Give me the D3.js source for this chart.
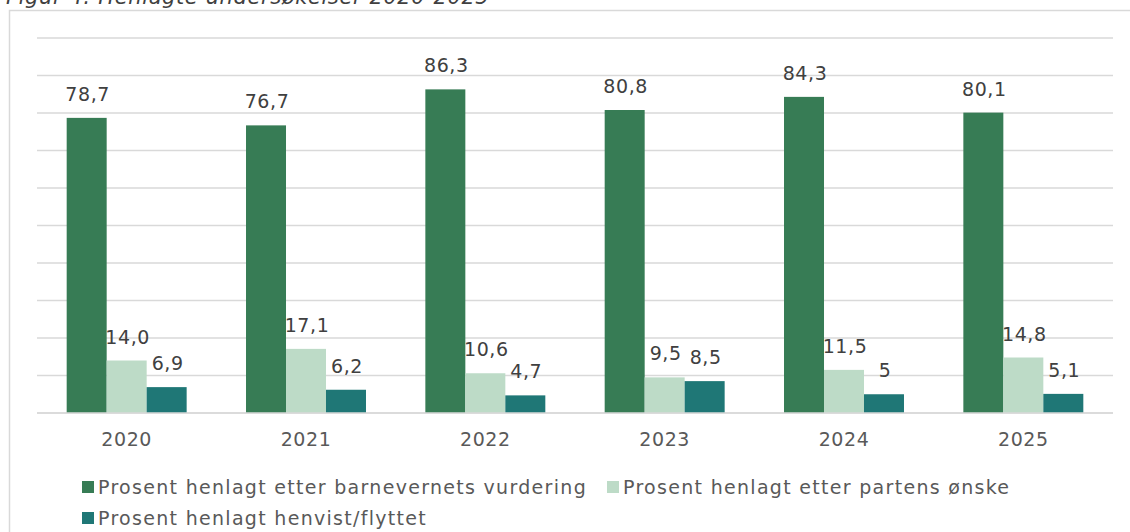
<!DOCTYPE html>
<html>
<head>
<meta charset="utf-8">
<script src="https://cdn.jsdelivr.net/npm/d3@7"></script>
<style>
  body { margin: 0; background: #fff; }
  text { font-family: "DejaVu Sans", sans-serif; letter-spacing: 0.6px; }
  .legend text { letter-spacing: 1.3px; }
</style>
</head>
<body>
<script>
// SVG size
const w = 1130;
const h = 532;

// Data
const years = ["2020", "2021", "2022", "2023", "2024", "2025"];
const seriesNames = [
    "Prosent henlagt etter barnevernets vurdering",
    "Prosent henlagt etter partens ønske",
    "Prosent henlagt henvist/flyttet"
];
const vurdering = [78.7, 76.7, 86.3, 80.8, 84.3, 80.1];
const partensOnske = [14.0, 17.1, 10.6, 9.5, 11.5, 14.8];
const henvist = [6.9, 6.2, 4.7, 8.5, 5, 5.1];
const yTicks = [0, 10, 20, 30, 40, 50, 60, 70, 80, 90, 100];
const colors = ["#377c55", "#bddbc7", "#1f7776"];

const seriesValues = [vurdering, partensOnske, henvist];

// comma decimals; the one whole number in the last series is shown without decimals
const fmt = (v, i) => (Number.isInteger(v) && i === 2) ? String(v) : v.toFixed(1).replace(".", ",");

const svg = d3.select("body")
    .append("svg")
    .attr("width", w)
    .attr("height", h);

// Title (cut off at top, as in the source)
svg.append("text")
    .attr("x", 6)
    .attr("y", 4)
    .attr("font-size", 21)
    .attr("font-style", "italic")
    .attr("fill", "#404040")
    .text("Figur 4: Henlagte undersøkelser 2020-2025");

// Frame
svg.append("rect")
    .attr("x", 9.5)
    .attr("y", 10.5)
    .attr("width", w)
    .attr("height", h)
    .attr("fill", "none")
    .attr("stroke", "#d9d9d9")
    .attr("stroke-width", 1.5);

// Scales
const x0 = d3.scaleBand()
    .domain(years)
    .range([37, 1113])
    .paddingInner(0.331)
    .paddingOuter(0.1655);

const x1 = d3.scaleBand()
    .domain(d3.range(seriesNames.length))
    .range([0, x0.bandwidth()]);

const yScale = d3.scaleLinear()
    .domain([0, 100])
    .range([413, 38]);

// Gridlines
svg.append("g")
    .selectAll("line")
    .data(yTicks)
    .join("line")
    .attr("x1", 37)
    .attr("x2", 1113)
    .attr("y1", d => yScale(d))
    .attr("y2", d => yScale(d))
    .attr("stroke", "#d9d9d9")
    .attr("stroke-width", 1.5);

// Bars
const rows = [];
years.forEach((yr, i) => {
    seriesValues.forEach((vals, s) => {
        rows.push({ year: yr, s: s, value: vals[i] });
    });
});

svg.append("g")
    .selectAll("rect")
    .data(rows)
    .join("rect")
    .attr("x", d => x0(d.year) + x1(d.s))
    .attr("y", d => yScale(d.value))
    .attr("width", x1.bandwidth())
    .attr("height", d => yScale(0) - yScale(d.value))
    .attr("fill", d => colors[d.s]);

// Data labels
svg.append("g")
    .selectAll("text")
    .data(rows)
    .join("text")
    .attr("x", d => x0(d.year) + x1(d.s) + x1.bandwidth() / 2 + 1)
    .attr("y", d => yScale(d.value) - 17)
    .attr("text-anchor", "middle")
    .attr("font-size", 19)
    .attr("fill", "#404040")
    .text(d => fmt(d.value, d.s));

// Baseline
svg.append("line")
    .attr("x1", 37)
    .attr("x2", 1113)
    .attr("y1", yScale(0))
    .attr("y2", yScale(0))
    .attr("stroke", "#d9d9d9")
    .attr("stroke-width", 1.5);

// X axis
const bottomAxis = d3.axisBottom(x0).tickSize(0).tickPadding(20);
const xAxis = svg.append("g")
    .attr("transform", `translate(0, ${yScale(0)})`)
    .call(bottomAxis);
xAxis.select(".domain").remove();
xAxis.selectAll("text")
    .attr("font-size", 19)
    .attr("font-family", "DejaVu Sans, sans-serif")
    .attr("fill", "#595959");

// Legend
const legendPos = [
    { x: 82, y: 487 },
    { x: 607, y: 487 },
    { x: 82, y: 518 }
];
const legend = svg.append("g")
    .attr("class", "legend")
    .selectAll("g")
    .data(seriesNames)
    .join("g")
    .attr("transform", (d, i) => `translate(${legendPos[i].x}, ${legendPos[i].y})`);

legend.append("rect")
    .attr("x", 0)
    .attr("y", -6)
    .attr("width", 12)
    .attr("height", 12)
    .attr("fill", (d, i) => colors[i]);

legend.append("text")
    .attr("x", 16)
    .attr("y", 7)
    .attr("font-size", 19)
    .attr("fill", "#595959")
    .text(d => d);
</script>
</body>
</html>
